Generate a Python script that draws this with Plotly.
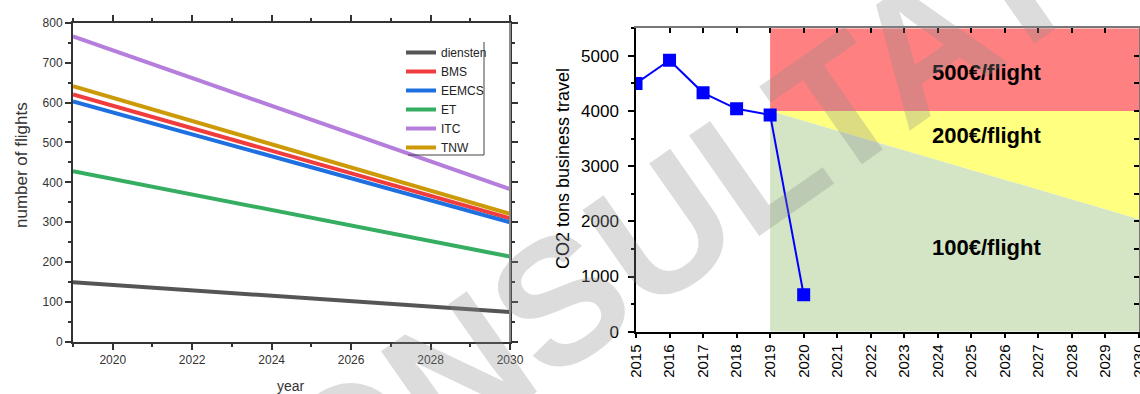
import plotly.graph_objects as go

# ---------------- data ----------------
# left chart: projected number of flights per department
proj_years = [2019, 2030]
departments = ["diensten", "BMS", "EEMCS", "ET", "ITC", "TNW"]
diensten = [150, 75]
bms = [620, 310]
eemcs = [603, 300]
et = [428, 214]
itc = [766, 383]
tnw = [641, 321]
dept_values = [diensten, bms, eemcs, et, itc, tnw]
dept_colors = ["#555555", "#F03C3C", "#1E6FE0", "#35AE62", "#B57EDC", "#CC9A06"]
flight_ticks = [0, 100, 200, 300, 400, 500, 600, 700, 800]

# right chart: CO2 tons business travel
co2_years = [2015, 2016, 2017, 2018, 2019, 2020]
co2_tons = [4500, 4920, 4330, 4040, 3930, 670]
co2_ticks = [0, 1000, 2000, 3000, 4000, 5000]

# price zones
zone_years = [2019, 2030]
zone_top = [5500, 5500]
red_bottom = [4000, 4000]
green_top = [4000, 2040]
zone_floor = [0, 0]
zone_labels = ["500€/flight", "200€/flight", "100€/flight"]
zone_label_y = [4700, 3560, 1520]
zone_label_x = [2025.45, 2025.45, 2025.45]

ARIAL = "Liberation Sans, Arial, Helvetica, sans-serif"

W, H = 1140, 394


def px_x(p):
    return p / W


def px_y(p):
    return (H - p) / H


fig = go.Figure()

# ---- left chart lines ----
for name, vals, col in zip(departments, dept_values, dept_colors):
    fig.add_trace(go.Scatter(
        x=proj_years, y=vals, mode="lines", name=name,
        line=dict(color=col, width=4), xaxis="x", yaxis="y",
        hoverinfo="skip"))

# ---- right chart zones ----
x0, x1 = zone_years
fig.add_trace(go.Scatter(
    x=[x0, x1, x1, x0], y=[red_bottom[0], red_bottom[1], zone_top[1], zone_top[0]],
    mode="lines", line=dict(width=0), fill="toself", fillcolor="#FF8080",
    xaxis="x2", yaxis="y2", showlegend=False, hoverinfo="skip"))
fig.add_trace(go.Scatter(
    x=[x0, x1, x1], y=[red_bottom[0], green_top[1], red_bottom[1]],
    mode="lines", line=dict(width=0), fill="toself", fillcolor="#FFFF80",
    xaxis="x2", yaxis="y2", showlegend=False, hoverinfo="skip"))
fig.add_trace(go.Scatter(
    x=[x0, x1, x1, x0], y=[green_top[0], green_top[1], zone_floor[1], zone_floor[0]],
    mode="lines", line=dict(width=0), fill="toself", fillcolor="#D3E5C4",
    xaxis="x2", yaxis="y2", showlegend=False, hoverinfo="skip"))

# ---- right chart data ----
fig.add_trace(go.Scatter(
    x=co2_years, y=co2_tons, mode="lines+markers",
    line=dict(color="#0000FF", width=2),
    marker=dict(symbol="square", size=13, color="#0000FF"),
    xaxis="x2", yaxis="y2", showlegend=False, hoverinfo="skip"))

# dummy (empty) traces for overlay tick axes
fig.add_trace(go.Scatter(x=[], y=[], xaxis="x3", yaxis="y2", showlegend=False))
fig.add_trace(go.Scatter(x=[], y=[], xaxis="x2", yaxis="y3", showlegend=False))

# zone labels
for lx, ly, txt in zip(zone_label_x, zone_label_y, zone_labels):
    fig.add_annotation(x=lx, y=ly, xref="x2", yref="y2", text=txt, showarrow=False,
                       font=dict(family=ARIAL, size=22, color="#000000", weight="bold"),
                       xanchor="center", yanchor="middle")

# axis titles as annotations
fig.add_annotation(x=px_x(21), y=px_y(165), xref="paper", yref="paper",
                   text="number of flights", textangle=-90, showarrow=False,
                   font=dict(family=ARIAL, size=17, color="#333333"),
                   xanchor="center", yanchor="middle")
fig.add_annotation(x=px_x(291), y=px_y(386), xref="paper", yref="paper",
                   text="year", showarrow=False,
                   font=dict(family=ARIAL, size=14, color="#333333"),
                   xanchor="center", yanchor="middle")
fig.add_annotation(x=px_x(563), y=px_y(169), xref="paper", yref="paper",
                   text="CO2 tons business travel", textangle=-90, showarrow=False,
                   font=dict(family=ARIAL, size=18, color="#000000"),
                   xanchor="center", yanchor="middle")

# watermark
fig.add_annotation(x=px_x(690), y=px_y(210), xref="paper", yref="paper",
                   text="CONSULTATIE", textangle=-35, showarrow=False,
                   font=dict(family=ARIAL, size=178, color="rgba(140,140,140,0.30)",
                             weight="bold"),
                   xanchor="center", yanchor="middle")

# legend frame (right and bottom edges)
fig.add_shape(type="line", xref="paper", yref="paper",
              x0=px_x(484), x1=px_x(484), y0=px_y(42), y1=px_y(155),
              line=dict(color="#444444", width=1))
fig.add_shape(type="line", xref="paper", yref="paper",
              x0=px_x(408), x1=px_x(484), y0=px_y(155), y1=px_y(155),
              line=dict(color="#444444", width=1))
# lighter right frame line of left chart
fig.add_shape(type="line", xref="paper", yref="paper",
              x0=px_x(510), x1=px_x(510), y0=px_y(342), y1=px_y(22.7),
              line=dict(color="#8a8a8a", width=2))

left_dom_x = [px_x(73), px_x(510)]
left_dom_y = [px_y(342), px_y(22.7)]
right_dom_x = [px_x(636), px_x(1139)]
right_dom_y = [px_y(331.7), px_y(28.3)]

fig.update_layout(
    width=W, height=H, autosize=False,
    margin=dict(l=0, r=0, t=0, b=0, autoexpand=False),
    paper_bgcolor="white", plot_bgcolor="white",
    showlegend=True,
    legend=dict(x=px_x(401), y=px_y(38), xanchor="left", yanchor="top",
                bgcolor="rgba(255,255,255,0)", borderwidth=0,
                font=dict(family=ARIAL, size=12, color="#222222"),
                tracegroupgap=0, itemwidth=30),
    xaxis=dict(domain=left_dom_x, anchor="y", range=[2019, 2030], automargin=False,
               tickmode="linear", tick0=2020, dtick=2,
               ticks="outside", ticklen=6, tickwidth=1.5, tickcolor="#333333",
               minor=dict(tickmode="linear", tick0=2019, dtick=1, ticks="outside",
                          ticklen=3, tickwidth=1.5, tickcolor="#333333"),
               showline=True, linecolor="#333333", linewidth=2, mirror="allticks",
               showgrid=False, zeroline=False, ticklabeloverflow="allow",
               tickfont=dict(family=ARIAL, size=12, color="#333333")),
    yaxis=dict(domain=left_dom_y, anchor="x", range=[0, 800], automargin=False,
               tickmode="array", tickvals=flight_ticks,
               ticks="outside", ticklen=6, tickwidth=1.5, tickcolor="#333333",
               minor=dict(tickmode="linear", tick0=0, dtick=50, ticks="outside",
                          ticklen=3, tickwidth=1.5, tickcolor="#333333"),
               showline=True, linecolor="#333333", linewidth=2, mirror="allticks",
               showgrid=False, zeroline=False,
               tickfont=dict(family=ARIAL, size=12, color="#333333")),
    xaxis2=dict(domain=right_dom_x, anchor="y2", range=[2015, 2030], automargin=False,
                tickmode="linear", tick0=2015, dtick=1, tickangle=-90,
                ticks="outside", ticklen=5, tickwidth=1.5, tickcolor="#000000",
                showline=True, linecolor="#000000", linewidth=1.5,
                showgrid=False, zeroline=False, ticklabeloverflow="allow",
                tickfont=dict(family=ARIAL, size=15, color="#000000")),
    yaxis2=dict(domain=right_dom_y, anchor="x2", range=[0, 5500], automargin=False,
                tickmode="array", tickvals=co2_ticks, ticklabelstandoff=6,
                ticks="outside", ticklen=6, tickwidth=1.5, tickcolor="#000000",
                minor=dict(tickmode="linear", tick0=0, dtick=500, ticks="outside",
                           ticklen=3, tickwidth=1.5, tickcolor="#000000"),
                showline=True, linecolor="#000000", linewidth=1.5,
                showgrid=False, zeroline=False,
                tickfont=dict(family=ARIAL, size=17, color="#000000")),
    xaxis3=dict(overlaying="x2", anchor="y2", side="top", range=[2015, 2030],
                automargin=False,
                tickmode="linear", tick0=2015, dtick=1,
                ticks="inside", ticklen=5, tickwidth=1.5, tickcolor="#000000",
                showticklabels=False, showline=True, linecolor="#777777",
                linewidth=1.5, showgrid=False, zeroline=False),
    yaxis3=dict(overlaying="y2", anchor="x2", side="right", range=[0, 5500],
                automargin=False,
                tickmode="linear", tick0=0, dtick=500,
                ticks="inside", ticklen=5, tickwidth=1.5, tickcolor="#000000",
                showticklabels=False, showline=True, linecolor="#777777",
                linewidth=1.5, showgrid=False, zeroline=False),
)

fig.write_html("out.html", config={"displayModeBar": False},
               post_script="document.body.style.margin='0';")
